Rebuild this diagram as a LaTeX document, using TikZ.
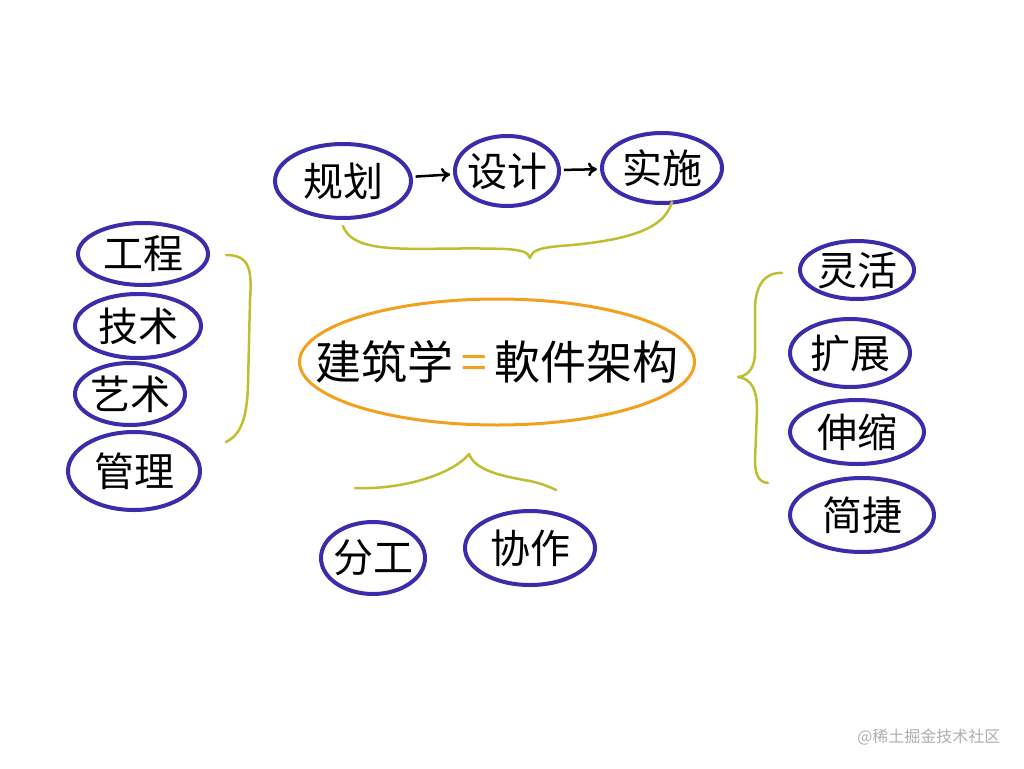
\documentclass[tikz,border=0pt]{standalone}
\usepackage{fontspec}
\setmainfont{Noto Sans CJK SC}
\usetikzlibrary{shapes.geometric,arrows.meta}
\definecolor{ink}{RGB}{58,44,170}
\definecolor{orng}{RGB}{242,160,30}
\definecolor{olive}{RGB}{192,190,48}
\definecolor{wm}{RGB}{175,175,175}
\tikzset{
  ell/.style={ellipse, draw=ink, line width=4pt, inner sep=-20pt, font=\fontsize{40}{44}\selectfont, text=black},
  mainell/.style={ellipse, draw=orng, line width=3pt, inner xsep=-70pt, inner ysep=-10pt, font=\fontsize{46}{50}\selectfont, text=black},
  brace/.style={draw=olive, line width=2.5pt, line cap=round, line join=round},
  flow/.style={-{To[length=9pt,width=14pt]}, line width=2.5pt, black, shorten <=3pt, shorten >=3pt}
}
\begin{document}
\begin{tikzpicture}[x=1pt,y=-1pt]
\useasboundingbox[fill=white] (0,0) rectangle (1024,768);
% top row
\node[ell, minimum width=136, minimum height=74] (plan) at (343,181) {规划};
\node[ell, minimum width=104, minimum height=70] (design) at (507,171) {设计};
\node[ell, minimum width=120, minimum height=70] (impl) at (662,168) {实施};
\draw[flow] (plan) -- (design);
\draw[flow] (design) -- (impl);
% top brace
\draw[brace] (343,226) .. controls (355,258) and (420,246) .. (505,249)
  .. controls (522,250) and (528,252) .. (530,258)
  .. controls (532,250) and (540,248) .. (560,246)
  .. controls (640,240) and (665,225) .. (672,202);
% left column
\node[ell, minimum width=130, minimum height=62] (gc) at (143,254) {工程};
\node[ell, minimum width=126, minimum height=64] (js) at (138,326) {技术};
\node[ell, minimum width=110, minimum height=62] (ys) at (130,394) {艺术};
\node[ell, minimum width=132, minimum height=78] (gl) at (134,471) {管理};
\draw[brace] (226,255) .. controls (250,255) and (252,270) .. (250,300)
  -- (248,385) .. controls (247,420) and (240,435) .. (226,442);
% center
\node[mainell, minimum width=395, minimum height=126] (main) at (497,362)
  {建筑学\,\textcolor{orng}{=}\,軟件架构};
% bottom brace
\draw[brace] (355,488) .. controls (400,490) and (452,475) .. (469,454)
  .. controls (475,470) and (500,476) .. (530,481)
  .. controls (540,483) and (550,487) .. (556,490);
\node[ell, minimum width=104, minimum height=72] (fg) at (373,558) {分工};
\node[ell, minimum width=130, minimum height=74] (xz) at (530,548) {协作};
% right column
\node[ell, minimum width=114, minimum height=58] (lh) at (857,270) {灵活};
\node[ell, minimum width=120, minimum height=68] (kz) at (850,353) {扩展};
\node[ell, minimum width=134, minimum height=64] (ss) at (857,432) {伸缩};
\node[ell, minimum width=144, minimum height=74] (jj) at (862,515) {简捷};
\draw[brace] (782,273) .. controls (765,272) and (755,285) .. (755,310)
  -- (755,352) .. controls (755,368) and (748,376) .. (738,377)
  .. controls (752,379) and (757,390) .. (757,410)
  -- (755,460) .. controls (755,474) and (758,482) .. (768,483);
% watermark
\node[text=wm, font=\fontsize{16}{18}\selectfont, anchor=east] (wmk) at (1004,737) {@稀土掘金技术社区};
\end{tikzpicture}
\end{document}
